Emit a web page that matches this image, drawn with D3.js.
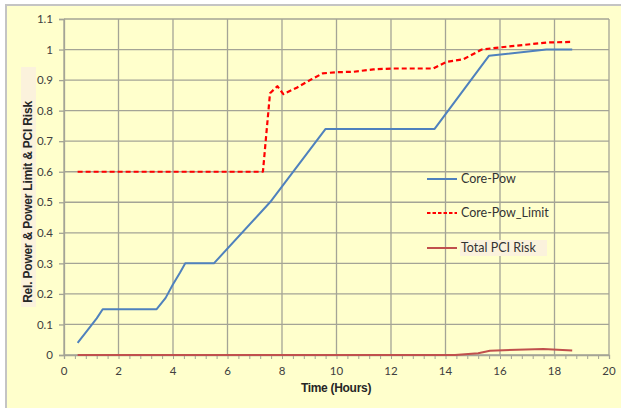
<!DOCTYPE html>
<html>
<head>
<meta charset="utf-8">
<script src="https://cdn.jsdelivr.net/npm/d3@7"></script>
<style>
  body { margin: 0; background: #fff; }
</style>
</head>
<body>
<div id="chart"></div>
<script>
// values
const corePowHours = [0.5, 0.88, 1.2, 1.42, 3.4, 3.73, 3.99, 4.26, 4.45, 5.5, 7.56, 9.6, 13.6, 15.6, 17.7, 18.65];
const corePow = [0.04, 0.083, 0.12, 0.15, 0.15, 0.187, 0.23, 0.27, 0.30, 0.30, 0.50, 0.74, 0.74, 0.98, 1.0, 1.0];

const limitHours = [0.5, 7.3, 7.56, 7.83, 8.05, 8.54, 9.03, 9.49, 10.0, 10.6, 11.35, 12.08, 13.55, 14.04, 14.65, 15.33, 16.0, 17.71, 18.65];
const corePowLimit = [0.6, 0.6, 0.857, 0.88, 0.854, 0.875, 0.9, 0.922, 0.926, 0.927, 0.935, 0.938, 0.938, 0.96, 0.968, 1.0, 1.007, 1.023, 1.025];

const riskHours = [0.5, 14.35, 15.2, 15.63, 17.59, 18.65];
const pciRisk = [0, 0, 0.006, 0.014, 0.02, 0.015];

const xTicks = [0, 2, 4, 6, 8, 10, 12, 14, 16, 18, 20];
const yTicks = [0, 0.1, 0.2, 0.3, 0.4, 0.5, 0.6, 0.7, 0.8, 0.9, 1, 1.1];
const seriesNames = ["Core-Pow", "Core-Pow_Limit", "Total PCI Risk"];

const width = 621, height = 408;
const margin = {left: 64, right: 12, top: 19, bottom: 53};

const svg = d3.select("#chart")
  .append("svg")
  .attr("width", width)
  .attr("height", height);

// outer panel
svg.append("rect")
  .attr("x", 6).attr("y", 5)
  .attr("width", 640).attr("height", 420)
  .attr("fill", "#ffffcc")
  .attr("stroke", "#c4c4c4")
  .attr("stroke-width", 2);

const x = d3.scaleLinear().domain([0, 20]).range([margin.left, width - margin.right]);
const y = d3.scaleLinear().domain([0, 1.1]).range([height - margin.bottom, margin.top]);

const gridColor = "#a4a496";

// grid
svg.append("g")
  .selectAll("line")
  .data(yTicks)
  .join("line")
  .attr("x1", x(0)).attr("x2", x(20))
  .attr("y1", d => y(d)).attr("y2", d => y(d))
  .attr("stroke", gridColor)
  .attr("stroke-width", 1.3);

svg.append("g")
  .selectAll("line")
  .data(xTicks)
  .join("line")
  .attr("x1", d => x(d)).attr("x2", d => x(d))
  .attr("y1", y(0)).attr("y2", y(1.1))
  .attr("stroke", gridColor)
  .attr("stroke-width", 1.3);

// axes
const xAxis = svg.append("g")
  .attr("transform", `translate(0,${y(0)})`)
  .call(d3.axisBottom(x).tickValues(d3.range(0, 20.01, 0.4)).tickSize(4).tickFormat(""));
xAxis.select(".domain").attr("stroke", gridColor).attr("stroke-width", 1.3);
xAxis.selectAll(".tick line").attr("stroke", gridColor);

svg.append("g")
  .attr("font-family", "Lato, sans-serif")
  .attr("font-size", 11.5)
  .attr("fill", "#404040")
  .attr("text-anchor", "middle")
  .selectAll("text")
  .data(xTicks)
  .join("text")
  .attr("x", d => x(d))
  .attr("y", y(0) + 20)
  .text(d => d);

const yAxis = svg.append("g")
  .attr("transform", `translate(${x(0)},0)`)
  .call(d3.axisLeft(y).tickValues(yTicks).tickSize(5).tickFormat(d => d3.format("~g")(d)));
yAxis.select(".domain").attr("stroke", gridColor).attr("stroke-width", 1.3);
yAxis.selectAll(".tick line").attr("stroke", gridColor).attr("stroke-width", 1.3);
yAxis.selectAll(".tick text")
  .attr("x", -11)
  .attr("font-family", "Lato, sans-serif")
  .attr("font-size", 11.5)
  .attr("fill", "#404040");

// axis titles
svg.append("text")
  .attr("x", 336).attr("y", 392)
  .attr("text-anchor", "middle")
  .attr("font-family", "'Liberation Sans', Arial, sans-serif")
  .attr("font-weight", "bold")
  .attr("font-size", 12)
  .attr("fill", "#262626")
  .attr("letter-spacing", -0.3)
  .text("Time (Hours)");

svg.append("rect")
  .attr("x", 21).attr("y", 67)
  .attr("width", 15).attr("height", 240)
  .attr("fill", "#fbf2dc");

svg.append("text")
  .attr("transform", "translate(32,202) rotate(-90)")
  .attr("text-anchor", "middle")
  .attr("font-family", "'Liberation Sans', Arial, sans-serif")
  .attr("font-weight", "bold")
  .attr("font-size", 12)
  .attr("fill", "#262626")
  .attr("letter-spacing", -0.2)
  .text("Rel. Power & Power Limit & PCI Risk");

// series
const line = d3.line().x(d => x(d[0])).y(d => y(d[1]));

const series = [
  {name: seriesNames[0], pts: d3.zip(corePowHours, corePow), color: "#4f81bd", dash: null, w: 2},
  {name: seriesNames[1], pts: d3.zip(limitHours, corePowLimit), color: "#ff0000", dash: "5,3", w: 2.2},
  {name: seriesNames[2], pts: d3.zip(riskHours, pciRisk), color: "#c0504d", dash: null, w: 2}
];

svg.append("g")
  .selectAll("path")
  .data(series)
  .join("path")
  .attr("fill", "none")
  .attr("stroke", d => d.color)
  .attr("stroke-width", d => d.w)
  .attr("stroke-dasharray", d => d.dash)
  .attr("stroke-linejoin", "round")
  .attr("d", d => line(d.pts));

// legend
const legendY = [179, 213, 248];
svg.append("rect")
  .attr("x", 460).attr("y", 240)
  .attr("width", 87).attr("height", 16)
  .attr("fill", "#fbf2dc");

const legend = svg.append("g")
  .selectAll("g")
  .data(series)
  .join("g")
  .attr("transform", (d, i) => `translate(427,${legendY[i]})`);

legend.append("line")
  .attr("x1", 0).attr("x2", 30)
  .attr("stroke", d => d.color)
  .attr("stroke-width", d => d.w)
  .attr("stroke-dasharray", d => d.dash ? "3.5,2" : null);

legend.append("text")
  .attr("x", 34)
  .attr("dy", "0.35em")
  .attr("font-family", "Lato, sans-serif")
  .attr("font-size", 12.5)
  .attr("fill", "#333")
  .text(d => d.name);
</script>
</body>
</html>
